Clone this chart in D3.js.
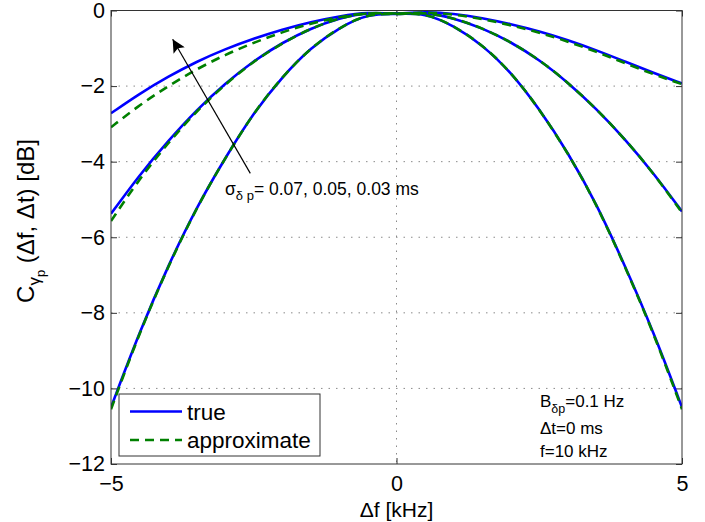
<!DOCTYPE html>
<html>
<head>
<meta charset="utf-8">
<script src="https://cdn.jsdelivr.net/npm/d3@7"></script>
<style>
  body { margin: 0; background: #fff; }
  text { font-family: "Liberation Sans", Arial, Helvetica, sans-serif; fill: #000; }
</style>
</head>
<body>
<div id="chart"></div>
<script>
// frequency offsets (kHz) the curves were read at
const df = [-5, -4.5, -4, -3.5, -3, -2.5, -2, -1.5, -1, -0.5, 0, 0.5, 1, 1.5, 2, 2.5, 3, 3.5, 4, 4.5, 5];

// sigma = 0.07 ms
const true07 = [-2.72, -2.2, -1.75, -1.35, -1.02, -0.74, -0.5, -0.3, -0.15, -0.04, -0.1, -0.03, -0.08, -0.2, -0.36, -0.55, -0.78, -1.05, -1.35, -1.65, -1.93];
const approx07 = [-3.09, -2.5, -2.0, -1.55, -1.17, -0.85, -0.57, -0.34, -0.17, -0.05, -0.1, -0.04, -0.1, -0.22, -0.39, -0.58, -0.82, -1.09, -1.39, -1.69, -1.95];
// sigma = 0.05 ms
const true05 = [-5.38, -4.35, -3.45, -2.63, -1.93, -1.33, -0.85, -0.47, -0.2, -0.04, -0.1, -0.04, -0.2, -0.46, -0.83, -1.3, -1.9, -2.6, -3.4, -4.3, -5.32];
const approx05 = [-5.57, -4.45, -3.5, -2.66, -1.95, -1.34, -0.86, -0.47, -0.2, -0.04, -0.1, -0.04, -0.2, -0.46, -0.83, -1.3, -1.9, -2.6, -3.4, -4.3, -5.35];
// sigma = 0.03 ms
const true03 = [-10.5, -8.5, -6.75, -5.2, -3.9, -2.7, -1.75, -0.98, -0.45, -0.08, -0.1, -0.06, -0.4, -0.9, -1.62, -2.6, -3.75, -5.1, -6.75, -8.5, -10.5];
const approx03 = [-10.55, -8.52, -6.77, -5.21, -3.9, -2.7, -1.75, -0.98, -0.45, -0.08, -0.1, -0.06, -0.4, -0.9, -1.62, -2.6, -3.76, -5.11, -6.77, -8.52, -10.55];

const sigmas = ["0.07", "0.05", "0.03"];
const xTicks = [-5, 0, 5];
const yTicks = [0, -2, -4, -6, -8, -10, -12];
const legendLabels = ["true", "approximate"];

const W = 705, H = 522;
const margin = {top: 10.5, right: 23, bottom: 58, left: 111};
const width = W - margin.left - margin.right,
      height = H - margin.top - margin.bottom;

const svg = d3.select("#chart")
  .append("svg")
  .attr("width", W)
  .attr("height", H)
  .append("g")
  .attr("transform", `translate(${margin.left},${margin.top})`);

const x = d3.scaleLinear().domain([-5, 5]).range([0, width]);
const y = d3.scaleLinear().domain([-12, 0]).range([height, 0]);

// dotted grid
svg.append("g")
  .selectAll("line")
  .data(yTicks.filter(d => d != 0 && d != -12))
  .join("line")
  .attr("x1", 0).attr("x2", width)
  .attr("y1", d => y(d)).attr("y2", d => y(d))
  .attr("stroke", "#8a8a8a").attr("stroke-width", 1)
  .attr("stroke-dasharray", "1.5,6");
svg.append("g")
  .selectAll("line")
  .data(xTicks.filter(d => d != -5 && d != 5))
  .join("line")
  .attr("x1", d => x(d)).attr("x2", d => x(d))
  .attr("y1", 0).attr("y2", height)
  .attr("stroke", "#8a8a8a").attr("stroke-width", 1)
  .attr("stroke-dasharray", "1.5,6");

// axes, ticks pointing in
const axisStyle = g => {
  g.select(".domain").remove();
  g.selectAll(".tick line").attr("stroke", "#333");
  g.selectAll("text").style("font-size", "21.5px").attr("fill", "#000");
};
svg.append("g")
  .call(d3.axisLeft(y).tickValues(yTicks).tickSize(-6).tickPadding(6))
  .call(axisStyle);
svg.append("g")
  .attr("transform", `translate(${width},0)`)
  .call(d3.axisRight(y).tickValues(yTicks).tickSize(-6).tickFormat(""))
  .call(axisStyle);
svg.append("g")
  .attr("transform", `translate(0,${height})`)
  .call(d3.axisBottom(x).tickValues(xTicks).tickSize(-6).tickPadding(12))
  .call(axisStyle);
svg.append("g")
  .call(d3.axisTop(x).tickValues(xTicks).tickSize(-6).tickFormat(""))
  .call(axisStyle);

// curves
svg.append("clipPath").attr("id", "clip")
  .append("rect").attr("width", width).attr("height", height);

const line = d3.line()
  .x((d, i) => x(df[i]))
  .y(d => y(d))
  .curve(d3.curveBasis);

const curves = svg.append("g").attr("clip-path", "url(#clip)");
[true07, true05, true03].forEach(s => {
  curves.append("path")
    .attr("d", line(s))
    .attr("fill", "none")
    .attr("stroke", "#0000ff")
    .attr("stroke-width", 2.6);
});
[approx07, approx05, approx03].forEach(s => {
  curves.append("path")
    .attr("d", line(s))
    .attr("fill", "none")
    .attr("stroke", "#008000")
    .attr("stroke-width", 2.6)
    .attr("stroke-dasharray", "9,6");
});

// frame
svg.append("rect")
  .attr("width", width).attr("height", height)
  .attr("fill", "none").attr("stroke", "#333").attr("stroke-width", 1);

// arrow showing increasing sigma
svg.append("defs").append("marker")
  .attr("id", "head")
  .attr("viewBox", "0 0 10 10")
  .attr("refX", 10).attr("refY", 5)
  .attr("markerWidth", 16).attr("markerHeight", 13)
  .attr("markerUnits", "userSpaceOnUse")
  .attr("orient", "auto")
  .append("path").attr("d", "M0,0 L10,5 L0,10 L2,5 Z").attr("fill", "#000");
svg.append("line")
  .attr("x1", x(-2.56)).attr("y1", y(-4.31))
  .attr("x2", x(-3.92)).attr("y2", y(-0.76))
  .attr("stroke", "#000").attr("stroke-width", 1.2)
  .attr("marker-end", "url(#head)");

// sigma annotation
const ann = svg.append("text")
  .attr("x", 225 - margin.left).attr("y", 195 - margin.top)
  .style("font-size", "17.5px");
ann.append("tspan").text("σ");
ann.append("tspan").attr("dy", 5).style("font-size", "13px").text("δ p");
ann.append("tspan").attr("dy", -5).text("= " + sigmas.join(", ") + " ms");

// parameter box text
const p1 = svg.append("text")
  .attr("x", 540 - margin.left).attr("y", 407 - margin.top)
  .style("font-size", "17px");
p1.append("tspan").text("B");
p1.append("tspan").attr("dy", 6).style("font-size", "12.5px").text("δp");
p1.append("tspan").attr("dy", -6).text("=0.1 Hz");
svg.append("text")
  .attr("x", 540 - margin.left).attr("y", 434 - margin.top)
  .style("font-size", "17px").text("Δt=0 ms");
svg.append("text")
  .attr("x", 540 - margin.left).attr("y", 457 - margin.top)
  .style("font-size", "17px").text("f=10 kHz");

// legend
const lg = svg.append("g").attr("transform", `translate(${119 - margin.left},${394 - margin.top})`);
lg.append("rect")
  .attr("width", 201).attr("height", 62)
  .attr("fill", "#fff").attr("stroke", "#333").attr("stroke-width", 1);
legendLabels.forEach((lab, i) => {
  const cy = 17.5 + i * 28.5;
  lg.append("line")
    .attr("x1", 11).attr("x2", 63)
    .attr("y1", cy).attr("y2", cy)
    .attr("stroke", i == 0 ? "#0000ff" : "#008000")
    .attr("stroke-width", 2.6)
    .attr("stroke-dasharray", i == 0 ? null : "9,6");
  lg.append("text")
    .attr("x", 68).attr("y", cy + 8)
    .style("font-size", "22.5px").text(lab);
});

// axis titles
svg.append("text")
  .attr("x", x(0)).attr("y", 517 - margin.top)
  .attr("text-anchor", "middle")
  .style("font-size", "21px").text("Δf [kHz]");

const yl = svg.append("text")
  .attr("transform", `translate(${34 - margin.left},${221 - margin.top}) rotate(-90)`)
  .attr("text-anchor", "middle")
  .style("font-size", "24px");
yl.append("tspan").text("C");
yl.append("tspan").attr("dy", 6).style("font-size", "17px").text("γ");
yl.append("tspan").attr("dy", 5).style("font-size", "13px").text("p");
yl.append("tspan").attr("dy", -11).text(" (Δf, Δt) [dB]");
</script>
</body>
</html>
